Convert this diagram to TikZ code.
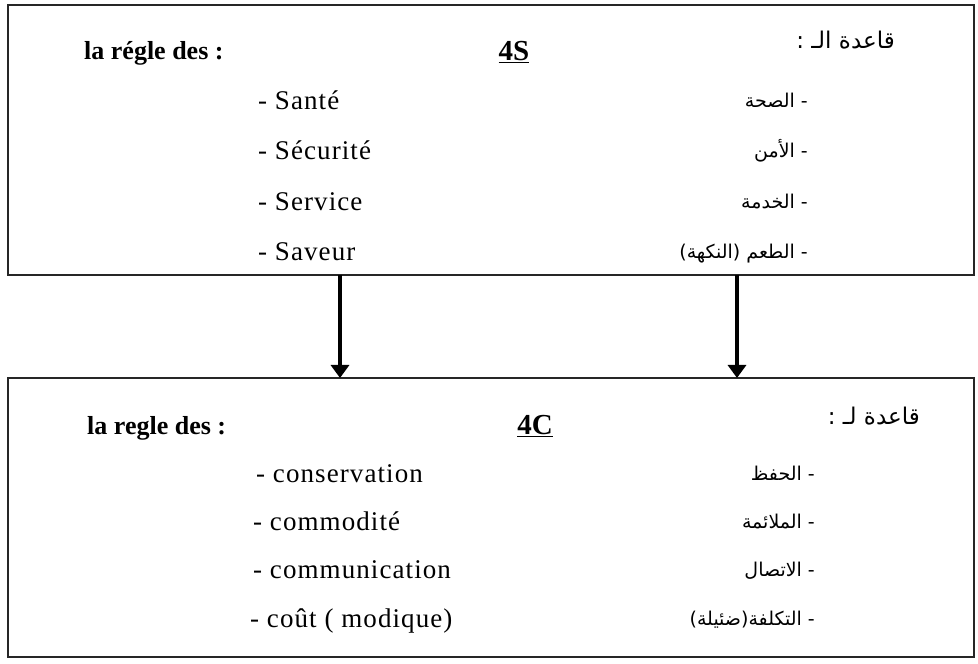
\documentclass[tikz,border=0pt]{standalone}
\usepackage{fontspec}
\setmainfont{Liberation Serif}
\newfontfamily\itemfont[LetterSpace=4]{Liberation Serif}
\newfontfamily\arabicfont[Script=Arabic]{DejaVu Sans}
\TeXXeTstate=1
\usetikzlibrary{arrows.meta}
\tikzset{
  box/.style={draw=black!85, line width=1.5pt, inner sep=0pt, outer sep=0pt, minimum width=966pt},
  fr/.style={font=\fontsize{27}{31}\itemfont, inner sep=0pt, anchor=mid west},
  frhead/.style={font=\fontsize{26}{30}\selectfont\bfseries, inner sep=0pt, anchor=mid west},
  ctr/.style={font=\fontsize{29}{32}\selectfont\bfseries, inner sep=0pt, anchor=mid},
  ar/.style={font=\fontsize{19}{22}\arabicfont, inner sep=0pt, anchor=mid east},
  arhead/.style={font=\fontsize{23}{26}\arabicfont, inner sep=0pt, anchor=mid east},
  link/.style={line width=3.4pt, -{Triangle[width=18pt,length=13pt]}}
}
\begin{document}
\begin{tikzpicture}[x=1pt,y=1pt]
\useasboundingbox (0,0) rectangle (978,664);
% the two frames
\node[box, minimum height=270pt] (top) at (491,524) {};
\node[box, minimum height=279pt] (bot) at (491,146.5) {};

% upper frame: the 4S rule
\node[frhead] (h1) at (84,607) {la régle des :};
\node[ctr] (s4) at (514,606) {\underline{4S}};
\node[arhead] (a0) at (895,618) {\beginR قاعدة الـ :\endR};
\node[fr] (f1) at (258,557) {- Santé};
\node[fr] (f2) at (258,507) {- Sécurité};
\node[fr] (f3) at (258,456) {- Service};
\node[fr] (f4) at (258,406) {- Saveur};
\node[ar] (r1) at (808,559) {\beginR - الصحة\endR};
\node[ar] (r2) at (808,509) {\beginR - الأمن\endR};
\node[ar] (r3) at (808,458) {\beginR - الخدمة\endR};
\node[ar] (r4) at (808,408) {\beginR - الطعم (النكهة)\endR};

% lower frame: the 4C rule
\node[frhead] (h2) at (87,232) {la regle des :};
\node[ctr] (c4) at (535,232) {\underline{4C}};
\node[arhead] (b0) at (920,242) {\beginR قاعدة لـ :\endR};
\node[fr] (g1) at (256,184) {- conservation};
\node[fr] (g2) at (253,136) {- commodité};
\node[fr] (g3) at (253,88) {- communication};
\node[fr] (g4) at (250,39) {- coût ( modique)};
\node[ar] (q1) at (815,186) {\beginR - الحفظ\endR};
\node[ar] (q2) at (815,138) {\beginR - الملائمة\endR};
\node[ar] (q3) at (815,90) {\beginR - الاتصال\endR};
\node[ar] (q4) at (815,41) {\beginR - التكلفة(ضئيلة)\endR};

% connectors between the frames
\coordinate (x1) at (340,0);
\coordinate (x2) at (737,0);
\draw[link] (top.south -| x1) -- (bot.north -| x1);
\draw[link] (top.south -| x2) -- (bot.north -| x2);
\end{tikzpicture}
\end{document}
